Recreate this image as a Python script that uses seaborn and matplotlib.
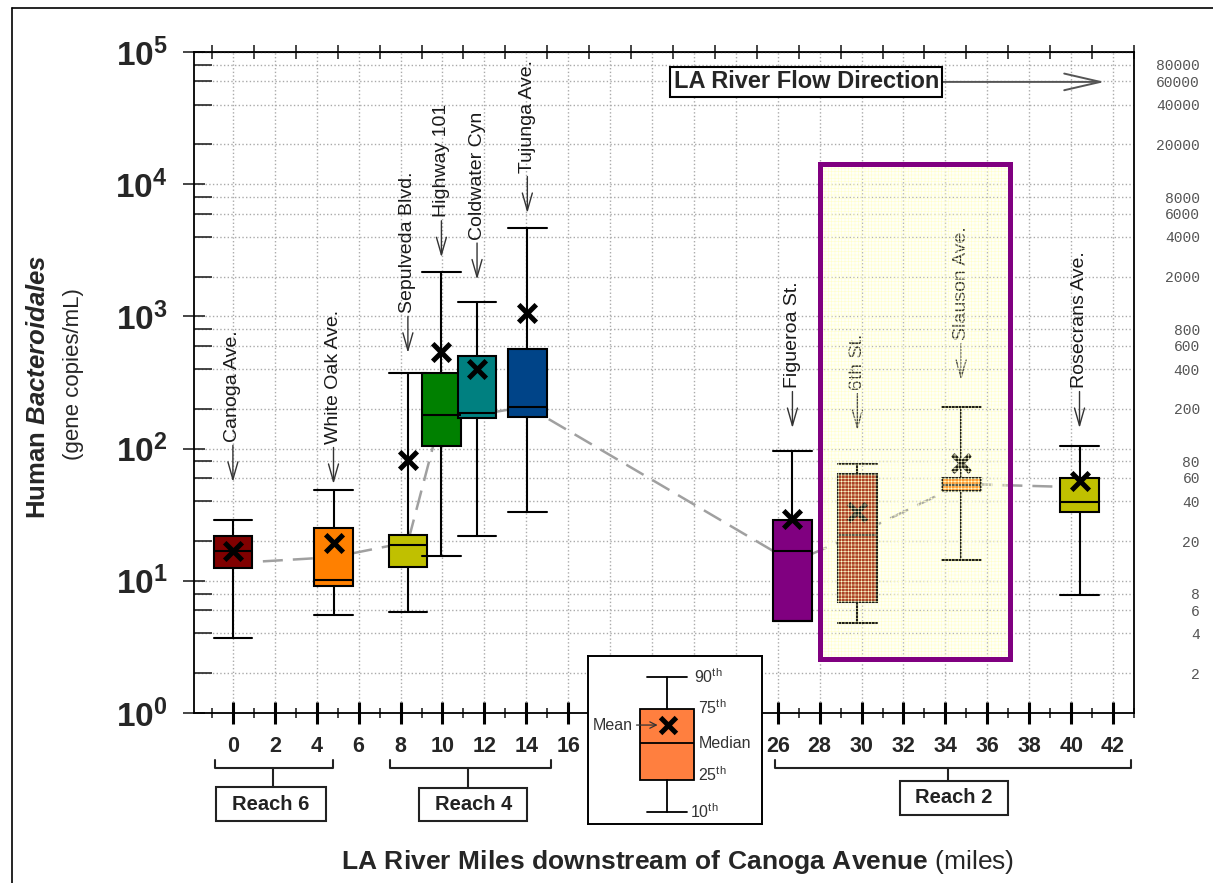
import numpy as np
import pandas as pd
import seaborn as sns
import matplotlib
matplotlib.use('Agg')
import matplotlib.pyplot as plt
from matplotlib.patches import Rectangle
from matplotlib.lines import Line2D
from matplotlib.ticker import LogLocator, NullLocator, NullFormatter
from matplotlib.transforms import blended_transform_factory

# ---- data ----
sites = ['Canoga Ave.', 'White Oak Ave.', 'Sepulveda Blvd.', 'Highway 101', 'Coldwater Cyn',
         'Tujunga Ave.', 'Figueroa St.', '6th St.', 'Slauson Ave.', 'Rosecrans Ave.']
miles = [0.0, 4.8, 8.35, 9.95, 11.65, 14.05, 26.7, 29.8, 34.75, 40.4]
p10 = [3.7, 5.5, 5.8, 15.3, 21.7, 33.0, 5.0, 4.8, 14.3, 7.8]
p25 = [12.5, 9.1, 12.7, 104, 170, 173, 5.0, 6.9, 47.5, 33.0]
p50 = [16.7, 10.1, 18.6, 181, 186, 206, 16.7, 22.1, 53, 39.2]
p75 = [21.7, 25.0, 22.1, 376, 506, 571, 28.7, 63.9, 59.6, 59.6]
p90 = [28.7, 48.3, 376, 2180, 1294, 4690, 95.3, 76.0, 208, 104]
means = [16.7, 19.2, 81.5, 542, 403, 1069, 29.2, 33.0, 77.3, 56.5]
trend = [13.6, 15.1, 19.6, 181, 180, 208, 13.8, 22.5, 54, 51]
label_tip = [56, 54, 530, 2800, 1900, 6050, 143, 138, 330, 143]
box_colors = ['#800000', '#FF8000', '#C0C000', '#008000', '#008080',
              '#004488', '#800080', '#A02810', '#FF9020', '#C0C000']

right_vals = [2, 4, 6, 8, 20, 40, 60, 80, 200, 400, 600, 800,
              2000, 4000, 6000, 8000, 20000, 40000, 60000, 80000]

# legend example box (fractions of the inset)
legend_pct = [0.071, 0.262, 0.482, 0.685, 0.875]
legend_mean = 0.589

sns.set_style('ticks')
plt.rcParams['font.family'] = ['Liberation Sans', 'DejaVu Sans']
plt.rcParams['mathtext.fontset'] = 'custom'
plt.rcParams['mathtext.rm'] = 'Liberation Sans'
plt.rcParams['mathtext.bf'] = 'Liberation Sans:bold'
plt.rcParams['mathtext.it'] = 'Liberation Sans:italic:bold'
plt.rcParams['hatch.linewidth'] = 0.4

df = pd.DataFrame({'site': sites, 'mile': miles, 'mean': means, 'trend': trend})

fig = plt.figure(figsize=(12.13, 8.83), dpi=100)
ax = fig.add_axes([194/1213, 1-713/883, 940/1213, 661/883])

# page frame
fig.add_artist(Line2D([12/1213, 12/1213], [0, 1-8/883], color='black', lw=1.2))
fig.add_artist(Line2D([12/1213, 1], [1-8/883, 1-8/883], color='black', lw=1.2))

sns.lineplot(data=df, x='mile', y='trend', ax=ax, color='#a0a0a0', lw=1.8,
             linestyle=(0, (8, 4)), zorder=2)

stats = [dict(whislo=a, q1=b, med=c, q3=d, whishi=e, fliers=[])
         for a, b, c, d, e in zip(p10, p25, p50, p75, p90)]
bp = ax.bxp(stats, positions=miles, widths=1.85, capwidths=1.85, patch_artist=True,
            showfliers=False, manage_ticks=False, zorder=3,
            boxprops=dict(edgecolor='black', lw=1.5),
            medianprops=dict(color='black', lw=1.5),
            whiskerprops=dict(color='black', lw=1.5),
            capprops=dict(color='black', lw=1.5))
for patch, c in zip(bp['boxes'], box_colors):
    patch.set_facecolor(c)

sns.scatterplot(data=df, x='mile', y='mean', ax=ax, marker='x', s=160, color='black',
                linewidth=3.6, zorder=4, legend=False)

ax.set_yscale('log')
ax.set_xlim(-1.857, 42.905)
ax.set_ylim(1, 1e5)
ax.set_xlabel('')
ax.set_ylabel('')

# site labels with arrows
for name, x, tip in zip(sites, miles, label_tip):
    ax.annotate(name, xy=(x, tip), xytext=(x, tip * 2.0), rotation=90,
                ha='center', va='bottom', fontsize=14, color='#1a1a1a', zorder=3,
                arrowprops=dict(arrowstyle='->,head_length=0.7,head_width=0.2',
                                lw=1.0, color='#333333', shrinkA=0, shrinkB=0,
                                mutation_scale=18, relpos=(0.5, 0)))

ax.annotate('LA River Flow Direction', xy=(41.6, 5.94e4), xytext=(27.36, 5.94e4),
            ha='center', va='center', fontsize=17, fontweight='bold', zorder=4,
            bbox=dict(boxstyle='square,pad=0.15', fc='white', ec='black', lw=1.5),
            arrowprops=dict(arrowstyle='->,head_length=1.3,head_width=0.3', color='#555555',
                            lw=1.4, shrinkA=0, shrinkB=0, mutation_scale=20))

# highlighted reach
ax.add_patch(Rectangle((28.0, 2.58), 9.07, 14130 - 2.58, facecolor=(1, 1, 0.8, 0.12),
                       edgecolor=(1, 1, 0.8), hatch='+++++', lw=0, zorder=5))
ax.add_patch(Rectangle((28.0, 2.58), 9.07, 14130 - 2.58, fill=False,
                       edgecolor='#800080', lw=3.6, zorder=6))

# grid
ax.set_axisbelow(True)
ax.grid(axis='x', which='major', ls=':', color='#aaaaaa', lw=1)
ax.grid(axis='y', which='both', ls=':', color='#aaaaaa', lw=1)

# x ticks
xt = np.arange(0, 43, 2)
ax.set_xticks(xt)
ax.set_xticklabels([str(v) if v <= 16 or v >= 26 else '' for v in xt],
                   fontweight='bold', fontsize=15.5)
ax.set_xticks(np.arange(-1, 44, 2), minor=True)
ax.tick_params(axis='x', which='major', direction='inout', length=15.8, width=2.2,
               pad=8.5, top=False, color='black')
ax.tick_params(axis='x', which='minor', direction='inout', length=7.2, width=1.2, top=False)
sec = ax.secondary_xaxis('top')
sec.set_xticks(np.arange(-1, 44, 2))
sec.set_xticklabels([])
sec.xaxis.set_minor_locator(NullLocator())
sec.tick_params(direction='inout', length=9.4, width=1.2)

# y ticks
ax.set_yticks([10.0 ** k for k in range(6)])
ax.set_yticklabels([r'$\mathbf{10^{%d}}$' % k for k in range(6)], fontsize=24)
ax.yaxis.set_minor_locator(LogLocator(base=10, subs=(2, 4, 6, 8)))
ax.yaxis.set_minor_formatter(NullFormatter())
ax.tick_params(axis='y', which='major', direction='inout', length=15.8, width=1.2,
               left=True, right=True, pad=11)
ax.tick_params(axis='y', which='minor', direction='in', length=13, width=1.2,
               left=True, right=True)
for s in ax.spines.values():
    s.set_linewidth(1.3)
    s.set_color('black')

ax2 = ax.twinx()
ax2.set_yscale('log')
ax2.set_ylim(1, 1e5)
ax2.set_yticks(right_vals)
ax2.set_yticklabels([str(v) for v in right_vals])
ax2.yaxis.set_minor_locator(NullLocator())
ax2.tick_params(axis='y', length=0, pad=47.5, labelsize=10.5, labelcolor='#555555')
for lab in ax2.get_yticklabels():
    lab.set_ha('right')
    lab.set_fontfamily('Liberation Mono')
for s in ax2.spines.values():
    s.set_visible(False)

# reach brackets below the axis
trans = blended_transform_factory(ax.transData, ax.transAxes)
reaches = [('Reach 6', -0.86, 4.76, 1.9, -0.81, 4.43, -0.112, -0.1634),
           ('Reach 4', 7.52, 15.19, 11.24, 8.90, 14.05, -0.113, -0.1634),
           ('Reach 2', 25.86, 42.86, 34.14, 31.81, 37.0, -0.1033, -0.1536)]
for name, x0, x1, xs, b0, b1, btop, bbot in reaches:
    ax.plot([x0, x0, x1, x1], [-0.071, -0.083, -0.083, -0.071], transform=trans,
            color='#222222', lw=1.5, clip_on=False)
    ax.plot([xs, xs], [-0.083, btop], transform=trans, color='#222222', lw=1.5, clip_on=False)
    ax.add_patch(Rectangle((b0, bbot), b1 - b0, btop - bbot, transform=trans, fill=False,
                           edgecolor='#222222', lw=1.5, clip_on=False))
    ax.text((b0 + b1) / 2, (btop + bbot) / 2, name, transform=trans, ha='center',
            va='center', fontsize=14.5, fontweight='bold', color='#222222')

# axis titles
fig.text(678/1213, 1-862/883, r'$\mathbf{LA\ River\ Miles\ downstream\ of\ Canoga\ Avenue}$ (miles)',
         ha='center', va='center', fontsize=19)
fig.text(38/1213, 1-387/883, r'Human $\mathit{Bacteroidales}$', rotation=90, ha='center',
         va='center', fontsize=18.5, fontweight='bold')
fig.text(74/1213, 1-374/883, '(gene copies/mL)', rotation=90, ha='center', va='center',
         fontsize=16)

# legend inset
axi = fig.add_axes([588/1213, 1-824/883, 174/1213, 168/883])
axi.set_xlim(0, 1)
axi.set_ylim(0, 1)
axi.set_xticks([])
axi.set_yticks([])
axi.set_facecolor('white')
for s in axi.spines.values():
    s.set_linewidth(1.4)
    s.set_color('black')
lb = axi.bxp([dict(whislo=legend_pct[0], q1=legend_pct[1], med=legend_pct[2],
                   q3=legend_pct[3], whishi=legend_pct[4], fliers=[])],
             positions=[0.454], widths=0.305, capwidths=0.23, patch_artist=True,
             showfliers=False, manage_ticks=False,
             boxprops=dict(edgecolor='black', lw=1.3, facecolor='#FF7F3F'),
             medianprops=dict(color='black', lw=1.3),
             whiskerprops=dict(color='black', lw=1.3),
             capprops=dict(color='black', lw=1.3))
sns.scatterplot(x=[0.458], y=[legend_mean], ax=axi, marker='x', s=130, color='black',
                linewidth=3.6, zorder=4, legend=False)
axi.set_xlim(0, 1)
axi.set_ylim(0, 1)
lab_kw = dict(fontsize=11.5, color='#333333', va='center', ha='left')
axi.text(0.61, legend_pct[4], r'90$^{\mathrm{th}}$', **lab_kw)
axi.text(0.635, legend_pct[3] + 0.01, r'75$^{\mathrm{th}}$', **lab_kw)
axi.text(0.635, legend_pct[2], 'Median', **lab_kw)
axi.text(0.635, legend_pct[1] + 0.03, r'25$^{\mathrm{th}}$', **lab_kw)
axi.text(0.585, legend_pct[0], r'10$^{\mathrm{th}}$', **lab_kw)
axi.annotate('Mean', xy=(0.40, legend_mean), xytext=(0.03, legend_mean), fontsize=11.5,
             color='#333333', va='center', ha='left',
             arrowprops=dict(arrowstyle='->', lw=0.9, color='#333333', shrinkA=0, shrinkB=0))

fig.savefig('out.png', dpi=100)
